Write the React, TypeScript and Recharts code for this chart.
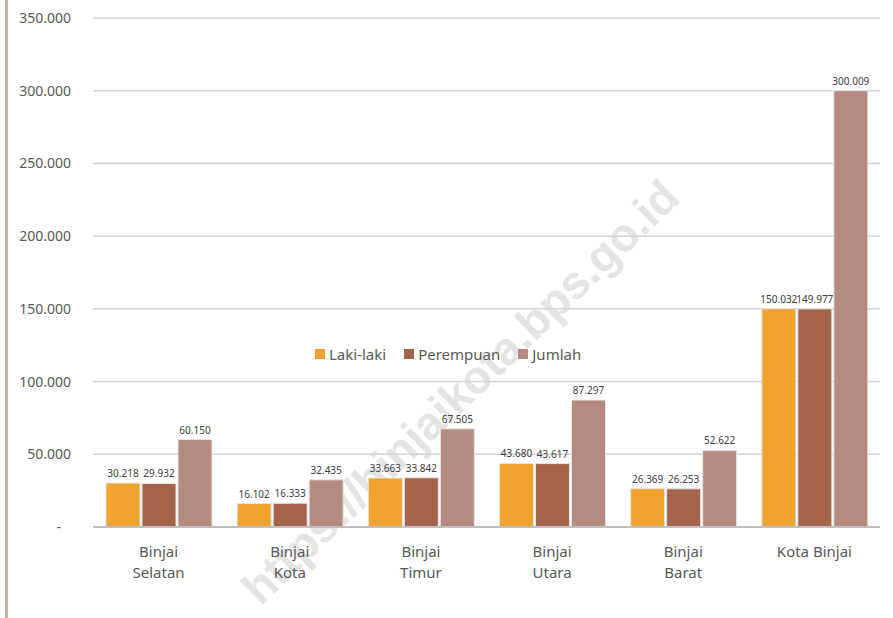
import React from "react";
import { BarChart, Bar, XAxis, YAxis, CartesianGrid, LabelList } from "recharts";

const kecamatan = ["Binjai Selatan", "Binjai Kota", "Binjai Timur", "Binjai Utara", "Binjai Barat", "Kota Binjai"];
const lakiLaki = [30218, 16102, 33663, 43680, 26369, 150032];
const perempuan = [29932, 16333, 33842, 43617, 26253, 149977];
const jumlah = [60150, 32435, 67505, 87297, 52622, 300009];
const yTicks = [0, 50000, 100000, 150000, 200000, 250000, 300000, 350000];

const data = kecamatan.map((name, i) => ({
  name,
  laki: lakiLaki[i],
  perempuan: perempuan[i],
  jumlah: jumlah[i],
}));

const COLORS = { laki: "#F0A22E", perempuan: "#A5634B", jumlah: "#B58B7F" };
const FONT = "'Noto Sans', 'Open Sans', sans-serif";

const fmt = (v: number) => v.toLocaleString("de-DE");

const YTick = (props: any) => {
  const { x, y, payload } = props;
  if (payload.value === 0) {
    return (
      <text x={x - 10} y={y} dy={5} textAnchor="end" fontSize={14} fill="#595959" fontFamily={FONT}>
        -
      </text>
    );
  }
  return (
    <text x={x} y={y} dy={5} textAnchor="end" fontSize={14} fill="#595959" fontFamily={FONT}>
      {fmt(payload.value)}
    </text>
  );
};

const XTick = (props: any) => {
  const { x, y, payload } = props;
  const label: string = payload.value;
  const lines = label.startsWith("Binjai ") ? ["Binjai", label.slice(7)] : [label];
  return (
    <text x={x} y={y} textAnchor="middle" fontSize={15} fill="#595959" fontFamily={FONT}>
      {lines.map((l, i) => (
        <tspan key={i} x={x} dy={i === 0 ? 22 : 21}>
          {l}
        </tspan>
      ))}
    </text>
  );
};

const legendItems = [
  { label: "Laki-laki", color: COLORS.laki },
  { label: "Perempuan", color: COLORS.perempuan },
  { label: "Jumlah", color: COLORS.jumlah },
];

const labelProps = { position: "top" as const, fontSize: 10, fill: "#404040", fontFamily: FONT, offset: 6 };

export default function App() {
  return (
    <div style={{ position: "absolute", left: 0, top: 0, width: 893, height: 618, background: "#fff", overflow: "hidden" }}>
      <div style={{ position: "absolute", left: 5, top: 0, width: 3, height: 618, background: "#C9AFA4" }} />
      {/* watermark sits behind the chart */}
      <div
        style={{
          position: "absolute",
          left: 460,
          top: 392,
          transform: "translate(-50%, -50%) rotate(-44deg)",
          whiteSpace: "nowrap",
          fontFamily: "'Liberation Sans', Arial, sans-serif",
          fontWeight: "bold",
          fontSize: 46,
          color: "#E4E4E4",
          pointerEvents: "none",
        }}
      >
        https://binjaikota.bps.go.id
      </div>
      <div style={{ position: "absolute", left: 0, top: 0 }}>
        <BarChart
          width={893}
          height={618}
          data={data}
          margin={{ top: 18, right: 13, left: 0, bottom: 0 }}
          barGap={2}
          barSize={34}
        >
          <CartesianGrid vertical={false} stroke="#D4D4D4" strokeWidth={1.5} />
          <XAxis
            dataKey="name"
            height={91}
            tickLine={false}
            axisLine={{ stroke: "#BFBFBF", strokeWidth: 2 }}
            tick={<XTick />}
            interval={0}
          />
          <YAxis
            width={93}
            domain={[0, 350000]}
            ticks={yTicks}
            axisLine={false}
            tickLine={false}
            tick={<YTick />}
            tickMargin={16}
          />
          <Bar dataKey="laki" fill={COLORS.laki} stroke="#E6E6E6" strokeWidth={1} isAnimationActive={false}>
            <LabelList dataKey="laki" formatter={(v: any) => fmt(v)} {...labelProps} />
          </Bar>
          <Bar dataKey="perempuan" fill={COLORS.perempuan} stroke="#E6E6E6" strokeWidth={1} isAnimationActive={false}>
            <LabelList dataKey="perempuan" formatter={(v: any) => fmt(v)} {...labelProps} />
          </Bar>
          <Bar dataKey="jumlah" fill={COLORS.jumlah} stroke="#E6E6E6" strokeWidth={1} isAnimationActive={false}>
            <LabelList dataKey="jumlah" formatter={(v: any) => fmt(v)} {...labelProps} />
          </Bar>
        </BarChart>
      </div>
      <div
        style={{
          position: "absolute",
          top: 344,
          left: 315,
          display: "flex",
          gap: 18,
          fontFamily: FONT,
          fontSize: 15,
          color: "#595959",
        }}
      >
        {legendItems.map((it) => (
          <div key={it.label} style={{ display: "flex", alignItems: "center", gap: 4 }}>
            <span style={{ width: 10, height: 10, background: it.color, display: "inline-block" }} />
            <span>{it.label}</span>
          </div>
        ))}
      </div>
    </div>
  );
}
